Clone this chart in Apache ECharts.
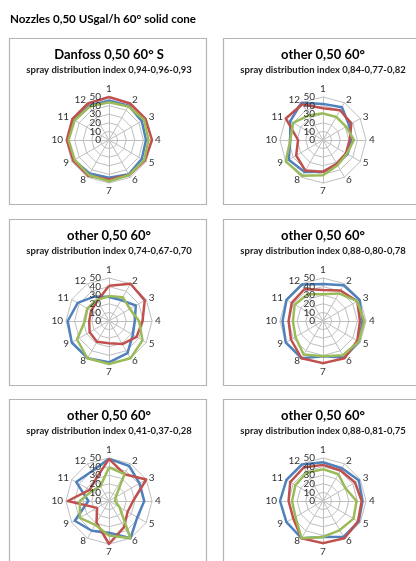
<!DOCTYPE html>
<html>
<head>
<meta charset="utf-8">
<script src="https://cdn.jsdelivr.net/npm/echarts@6/dist/echarts.min.js"></script>
<style>
html,body{margin:0;padding:0;background:#fff;}
#chart{width:416px;height:561px;}
</style>
</head>
<body>
<div id="chart"></div>
<script>
// ---- data ----
const chartTitle = 'Nozzles 0,50 USgal/h 60° solid cone';
const spokes = ['1','2','3','4','5','6','7','8','9','10','11','12'];
const maxValue = 50;
const panelTitles = ['Danfoss 0,50 60° S','other 0,50 60°','other 0,50 60°','other 0,50 60°','other 0,50 60°','other 0,50 60°'];
const panelIndices = [
  'spray distribution index 0,94-0,96-0,93',
  'spray distribution index 0,84-0,77-0,82',
  'spray distribution index 0,74-0,67-0,70',
  'spray distribution index 0,88-0,80-0,78',
  'spray distribution index 0,41-0,37-0,28',
  'spray distribution index 0,88-0,81-0,75'
];
const p1Blue  = [46, 46, 44, 43, 44, 46, 44, 45, 47, 48, 47, 46];
const p1Red   = [50, 49, 49, 50, 48, 47, 46, 48, 48, 49, 49, 49];
const p1Green = [44, 45, 47, 46, 47, 47, 48, 47, 46, 47, 46, 45];
const p2Blue  = [42, 44, 35, 33, 33, 32, 37, 43, 46, 38, 44, 50];
const p2Red   = [37, 40, 38, 31, 31, 32, 37, 41, 36, 29, 50, 48];
const p2Green = [31, 31, 31, 36, 32, 34, 41, 48, 50, 38, 40, 33];
const p3Blue  = [28, 28, 36, 30, 32, 43, 48, 50, 50, 48, 42, 33];
const p3Red   = [41, 50, 48, 39, 37, 31, 26, 28, 26, 23, 24, 27];
const p3Green = [29, 32, 28, 35, 45, 50, 50, 50, 43, 28, 29, 28];
const p4Blue  = [43, 48, 49, 46, 48, 49, 41, 50, 50, 47, 49, 49];
const p4Red   = [36, 41, 46, 43, 46, 50, 49, 50, 43, 40, 42, 43];
const p4Green = [31, 37, 46, 48, 48, 46, 41, 45, 37, 35, 38, 36];
const p5Blue  = [49, 47, 41, 41, 38, 50, 37, 40, 46, 24, 44, 40];
const p5Red   = [49, 36, 50, 28, 25, 35, 50, 29, 16, 48, 26, 30];
const p5Green = [39, 36, 9, 7, 14, 50, 40, 32, 39, 34, 23, 20];
const p6Blue  = [45, 44, 48, 46, 48, 48, 42, 50, 49, 50, 49, 49];
const p6Red   = [42, 41, 43, 45, 47, 50, 49, 50, 40, 40, 44, 45];
const p6Green = [37, 36, 30, 39, 41, 39, 42, 50, 37, 36, 37, 38];

const panelData = [
  [p1Blue, p1Red, p1Green],
  [p2Blue, p2Red, p2Green],
  [p3Blue, p3Red, p3Green],
  [p4Blue, p4Red, p4Green],
  [p5Blue, p5Red, p5Green],
  [p6Blue, p6Red, p6Green]
];

// ---- layout / style ----
const seriesColors = ['#4F81BD', '#C0504D', '#9BBB59'];
const panelLefts = [9, 223];
const panelTops = [38, 219, 399];
const panelW = 197, panelH = 166;
const font = 'Lato, "Open Sans", sans-serif';

// clockwise order: ECharts radar runs counter-clockwise
const order = [0, 11, 10, 9, 8, 7, 6, 5, 4, 3, 2, 1];

const titles = [{
  text: chartTitle, left: 10, top: 13, padding: 0,
  textStyle: {fontFamily: font, fontSize: 11.6, fontWeight: 'bold', color: '#000'}
}];
const radars = [];
const series = [];
const graphics = [];

function makeIndicators(withLabel) {
  return order.map((k, i) => {
    const ind = {name: spokes[k], min: 0, max: maxValue};
    if (withLabel && i === 0) ind.axisLabel = {show: true};
    return ind;
  });
}

panelData.forEach((sets, p) => {
  const col = p % 2, row = Math.floor(p / 2);
  const x0 = panelLefts[col], y0 = panelTops[row];
  const center = [x0 + 100, y0 + 102];
  graphics.push({
    type: 'rect', silent: true, z: -1,
    shape: {x: x0 + 0.5, y: y0 + 0.5, width: panelW, height: panelH},
    style: {fill: 'none', stroke: '#B4B4B4', lineWidth: 1.2}
  });
  titles.push({
    text: panelTitles[p], left: x0 + 100, top: y0 + 17, padding: 0,
    textAlign: 'center', textVerticalAlign: 'middle',
    textStyle: {fontFamily: font, fontSize: 13, fontWeight: 'bold', color: '#000'}
  });
  titles.push({
    text: panelIndices[p], left: x0 + 100, top: y0 + 32, padding: 0,
    textAlign: 'center', textVerticalAlign: 'middle',
    textStyle: {fontFamily: font, fontSize: 9.5, fontWeight: 'bold', color: '#1a1a1a'}
  });
  const labelStyle = {color: '#333', fontFamily: font, fontSize: 10, margin: 8};
  // main radar: grid, spokes, names
  radars.push({
    center: center, radius: 43, startAngle: 90, splitNumber: 5, shape: 'polygon',
    nameGap: 3,
    axisName: {color: '#333', fontFamily: font, fontSize: 10},
    indicator: makeIndicators(false),
    axisLabel: {show: false},
    axisTick: {show: false},
    splitLine: {lineStyle: {color: '#BFBFBF', width: 1}},
    splitArea: {show: false},
    axisLine: {lineStyle: {color: '#BFBFBF', width: 1}}
  });
  // overlay radar: inner tick labels (10..40), drawn above the lines
  radars.push({
    center: center, radius: 43, startAngle: 90, splitNumber: 5, shape: 'polygon', z: 5,
    axisName: {show: false},
    indicator: makeIndicators(true),
    axisLabel: Object.assign({show: false, showMinLabel: false, showMaxLabel: false}, labelStyle),
    axisTick: {show: false}, splitLine: {show: false}, splitArea: {show: false}, axisLine: {show: false}
  });
  // overlay radar: end tick labels (0 and 50)
  radars.push({
    center: center, radius: 43, startAngle: 90, splitNumber: 5, shape: 'polygon', z: 5,
    axisName: {show: false},
    indicator: makeIndicators(true),
    axisLabel: Object.assign({show: false, showMinLabel: true, showMaxLabel: true,
      formatter: v => (v === 0 || v === maxValue) ? String(v) : ''}, labelStyle),
    axisTick: {show: false}, splitLine: {show: false}, splitArea: {show: false}, axisLine: {show: false}
  });
  series.push({
    type: 'radar',
    radarIndex: p * 3,
    symbol: 'none',
    silent: true,
    data: sets.map((vals, s) => ({
      value: order.map(k => vals[k]),
      lineStyle: {color: seriesColors[s], width: 2.5},
      itemStyle: {color: seriesColors[s]}
    }))
  });
});

const chart = echarts.init(document.getElementById('chart'), null, {renderer: 'canvas'});
chart.setOption({
  animation: false,
  backgroundColor: '#fff',
  title: titles,
  radar: radars,
  series: series,
  graphic: graphics
});
</script>
</body>
</html>
